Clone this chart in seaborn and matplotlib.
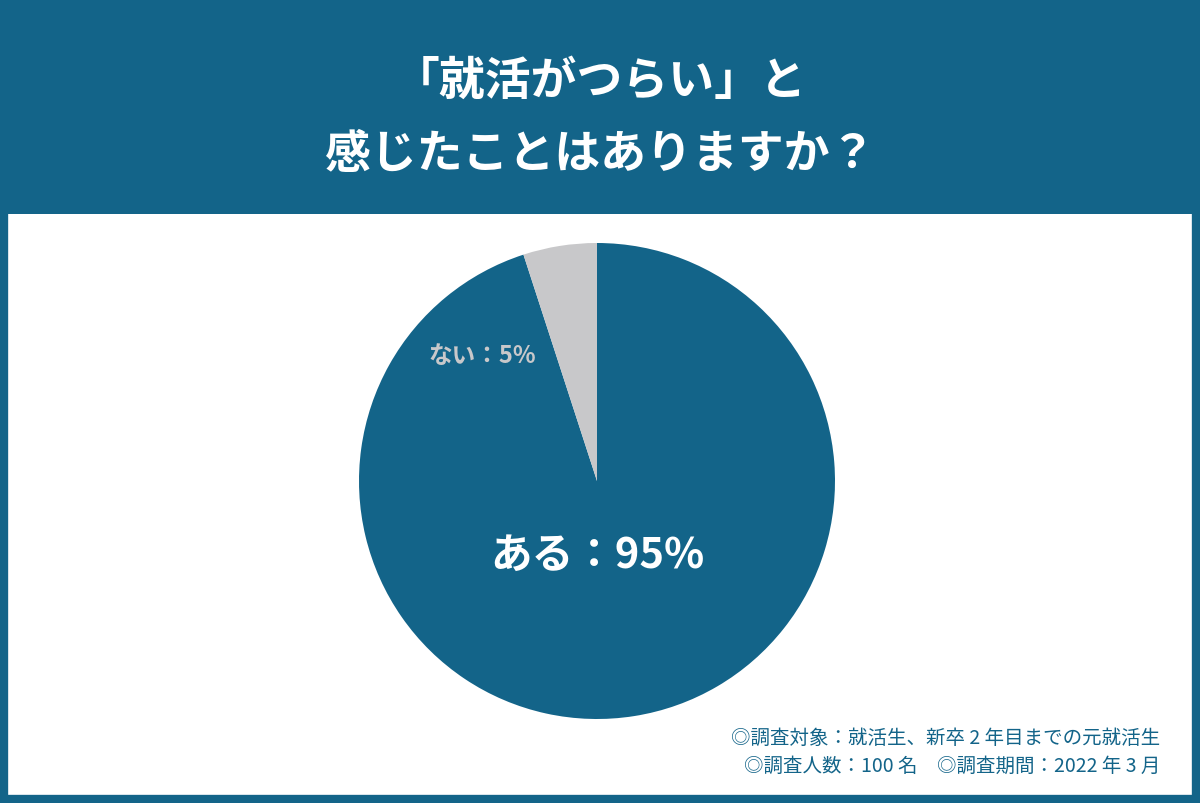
import matplotlib
matplotlib.use('Agg')
import matplotlib.pyplot as plt
import seaborn as sns
from matplotlib.patches import Rectangle

sns.set_theme(style='white')
plt.rcParams['font.family'] = ['Noto Sans CJK JP', 'DejaVu Sans']

# データ
labels = ['ある', 'ない']
values = [95, 5]
colors = ['#136489', '#c8c8ca']
title_lines = ['「就活がつらい」と', '感じたことはありますか？']
notes = ['◎調査対象：就活生、新卒 2 年目までの元就活生',
         '◎調査人数：100 名　◎調査期間：2022 年 3 月']

fig = plt.figure(figsize=(12, 8.04), dpi=100)
fig.patch.set_facecolor('white')

# 枠とヘッダー
fig.add_artist(Rectangle((0, 1 - 215 / 804), 1, 215 / 804, transform=fig.transFigure,
                         facecolor='#136489', edgecolor='none'))
fig.add_artist(Rectangle((0.003, 0.005), 0.994, 0.99, transform=fig.transFigure,
                         facecolor='none', edgecolor='#136489', linewidth=6))
fig.text(0.5, 1 - 82 / 804, title_lines[0], ha='center', va='center',
         color='white', fontsize=33, fontweight='bold')
fig.text(0.5, 1 - 155 / 804, title_lines[1], ha='center', va='center',
         color='white', fontsize=33, fontweight='bold')

# 円グラフ
ax = fig.add_axes([359 / 1200, 1 - 720 / 804, 476 / 1200, 476 / 804])
ax.pie(values, colors=colors, startangle=90, counterclock=False, radius=1,
       wedgeprops=dict(linewidth=0))
ax.set_xlim(-1, 1)
ax.set_ylim(-1, 1)
ax.set_aspect('equal')
ax.axis('off')
ax.text(0, -0.31, f'{labels[0]}：{values[0]}%', ha='center', va='center',
        color='white', fontsize=30, fontweight='bold')
ax.text(-0.48, 0.53, f'{labels[1]}：{values[1]}%', ha='center', va='center',
        color='#c8c8ca', fontsize=17, fontweight='bold')

# 注記
fig.text(1160 / 1200, 1 - 738 / 804, notes[0], ha='right', va='center',
         color='#136489', fontsize=14)
fig.text(1160 / 1200, 1 - 766 / 804, notes[1], ha='right', va='center',
         color='#136489', fontsize=14)

fig.savefig('out.png', dpi=100, facecolor='white')
